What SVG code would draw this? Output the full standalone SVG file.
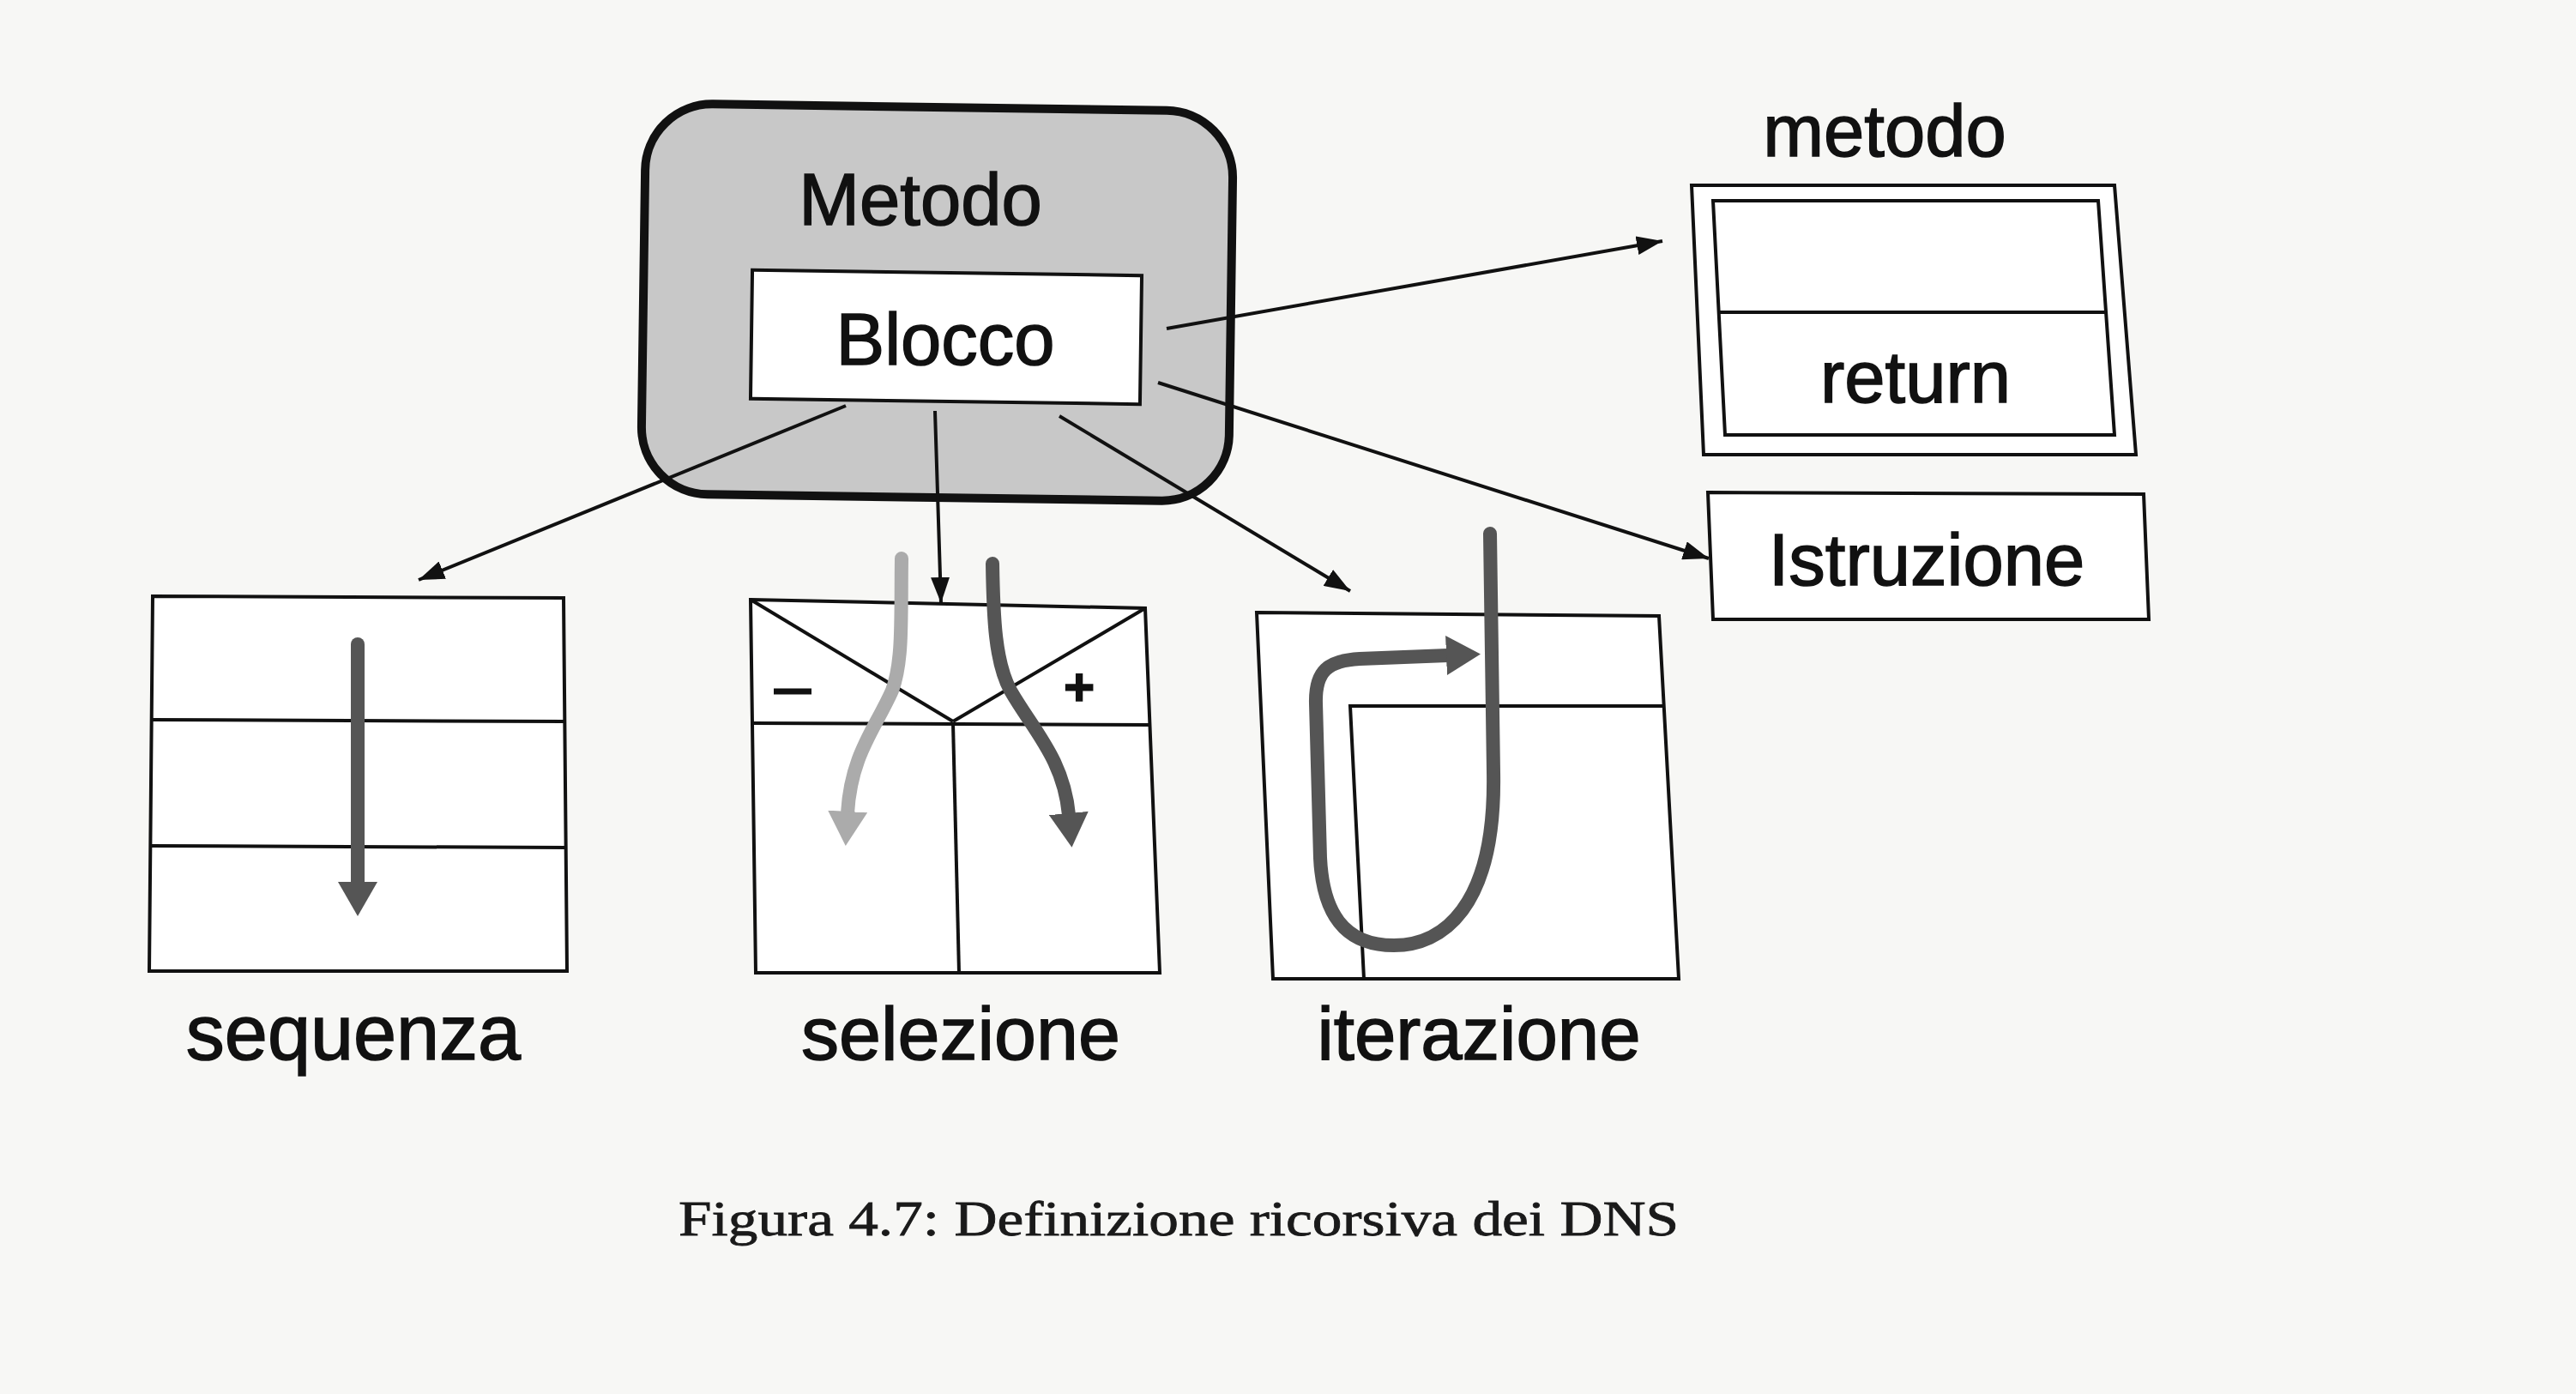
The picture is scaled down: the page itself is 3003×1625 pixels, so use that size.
<svg xmlns="http://www.w3.org/2000/svg" width="3003" height="1625" viewBox="0 0 3003 1625">
<style>
.bg{fill:#f7f7f5}
.box{fill:#ffffff;stroke:#111;stroke-width:4;stroke-linejoin:miter}
.ln{fill:none;stroke:#111;stroke-width:4}
.lbl{font-family:"Liberation Sans",Arial,sans-serif;fill:#111;stroke:#111;stroke-width:1.5;text-anchor:middle}
.conn{fill:none;stroke:#111;stroke-width:4}
.gd{fill:none;stroke:#555;stroke-width:16;stroke-linecap:round;stroke-linejoin:round}
.gl{fill:none;stroke:#ababab;stroke-width:16;stroke-linecap:round;stroke-linejoin:round}
.cap{font-family:"Liberation Serif","Times New Roman",serif;fill:#1a1a1a;stroke:#1a1a1a;stroke-width:0.8;font-size:58px}
</style>
<defs>
<marker id="ah" viewBox="0 0 30 22" refX="30" refY="11" markerWidth="30" markerHeight="22" markerUnits="userSpaceOnUse" orient="auto">
<path d="M0,0 L30,11 L0,22 z" fill="#111"/>
</marker>
<marker id="hd" viewBox="0 0 40 46" refX="2" refY="23" markerWidth="40" markerHeight="46" markerUnits="userSpaceOnUse" orient="auto">
<path d="M0,0 L40,23 L0,46 z" fill="#555"/>
</marker>
<marker id="hl" viewBox="0 0 40 46" refX="2" refY="23" markerWidth="40" markerHeight="46" markerUnits="userSpaceOnUse" orient="auto">
<path d="M0,0 L40,23 L0,46 z" fill="#ababab"/>
</marker>
</defs>
<rect class="bg" x="0" y="0" width="3003" height="1625"/>

<g id="node-metodo-blocco">
<rect x="750" y="125" width="685" height="455" rx="78" ry="78" fill="#c8c8c8" stroke="#111" stroke-width="10" transform="rotate(0.8 1092 352)"/>
<text class="lbl" x="1073" y="262" font-size="85">Metodo</text>
<rect class="box" x="876" y="318" width="454" height="150" transform="rotate(0.8 1103 393)"/>
<text class="lbl" x="1102" y="425" font-size="85">Blocco</text>
</g>

<g id="node-metodo">
<text class="lbl" x="2197" y="182" font-size="85">metodo</text>
<polygon class="box" points="1972,216 2465,216 2490,530 1986,530"/>
<polygon class="box" points="1997,234 2446,234 2465,507 2011,507"/>
<line class="ln" x1="2004" y1="364" x2="2455" y2="364"/>
<text class="lbl" x="2233" y="469" font-size="85">return</text>
</g>

<g id="node-istruzione">
<polygon class="box" points="1991,574 2499,576 2505,722 1997,722"/>
<text class="lbl" x="2246" y="682" font-size="85">Istruzione</text>
</g>

<g id="node-sequenza">
<polygon class="box" points="178,695 657,697 661,1132 174,1132"/>
<line class="ln" x1="177" y1="839" x2="658" y2="841"/>
<line class="ln" x1="175" y1="986" x2="660" y2="988" stroke-width="7"/>
<line class="gd" x1="417" y1="751" x2="417" y2="1030" stroke-linecap="butt" marker-end="url(#hd)"/>
<text class="lbl" x="412" y="1235" font-size="90">sequenza</text>
</g>

<g id="node-selezione">
<polygon class="box" points="875,699 1335,709 1352,1134 881,1134"/>
<line class="ln" x1="877" y1="843" x2="1341" y2="845"/>
<line class="ln" x1="875" y1="699" x2="1111" y2="841"/>
<line class="ln" x1="1335" y1="709" x2="1111" y2="841"/>
<line class="ln" x1="1111" y1="843" x2="1118" y2="1134"/>
<line x1="902" y1="806" x2="946" y2="806" stroke="#111" stroke-width="7"/>
<text class="lbl" x="1258" y="822" font-size="62" font-weight="bold">+</text>
<path class="gl" d="M1051,651 C1050,720 1053,770 1040,805 C1020,850 992,880 988,948" marker-end="url(#hl)"/>
<path class="gd" d="M1157,657 C1158,720 1160,772 1178,805 C1205,852 1240,885 1246,950" marker-end="url(#hd)"/>
<text class="lbl" x="1120" y="1235" font-size="88">selezione</text>
</g>

<g id="node-iterazione">
<polygon class="box" points="1465,714 1934,718 1957,1141 1484,1141"/>
<polyline class="ln" points="1938,823 1574,823 1590,1141"/>
<path class="gd" d="M1737,622 L1741,900 C1744,1060 1680,1102 1625,1102 C1565,1102 1542,1062 1539,1000 L1534,820 C1533,782 1548,770 1585,768 L1688,764" marker-end="url(#hd)"/>
<text class="lbl" x="1724" y="1235" font-size="87">iterazione</text>
</g>

<g id="connectors">
<line class="conn" x1="1360" y1="383" x2="1938" y2="281" marker-end="url(#ah)"/>
<line class="conn" x1="1350" y1="446" x2="1992" y2="651" marker-end="url(#ah)"/>
<line class="conn" x1="986" y1="473" x2="488" y2="676" marker-end="url(#ah)"/>
<line class="conn" x1="1090" y1="479" x2="1097" y2="703" marker-end="url(#ah)"/>
<line class="conn" x1="1235" y1="485" x2="1574" y2="689" marker-end="url(#ah)"/>
</g>

<g id="caption">
<text class="cap" x="791" y="1440" textLength="1166" lengthAdjust="spacingAndGlyphs">Figura 4.7: Definizione ricorsiva dei DNS</text>
</g>
</svg>
